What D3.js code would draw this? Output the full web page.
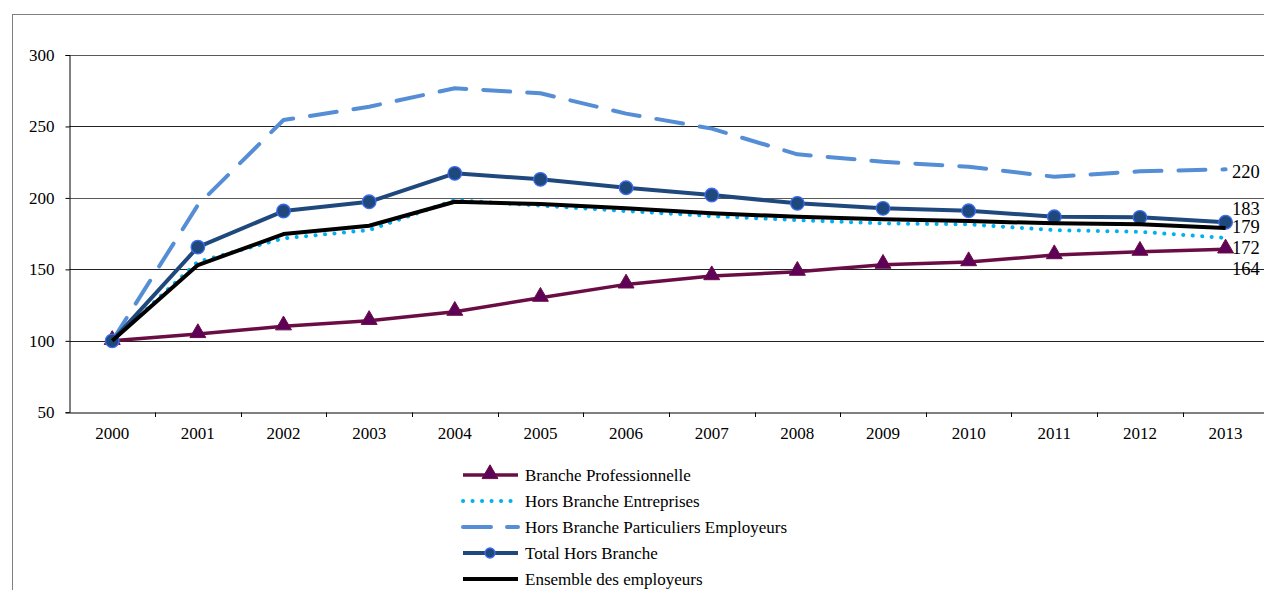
<!DOCTYPE html>
<html><head><meta charset="utf-8">
<script src="https://cdn.jsdelivr.net/npm/d3@7"></script>
<style>
html,body{margin:0;padding:0;background:#fff;overflow:hidden}
svg text{font-family:'Liberation Serif','Times New Roman',Times,'DejaVu Serif',serif !important;fill:#000}
</style></head>
<body><svg id="c" width="1264" height="590"></svg>
<script>
const years = ["2000","2001","2002","2003","2004","2005","2006","2007","2008","2009","2010","2011","2012","2013"];
const brancheProfessionnelle = [100,104.8,110.2,114,120.4,130.2,139.5,145.3,148.4,153.3,155.1,160,162.4,164];
const horsBrancheEntreprises = [100,155.3,171.7,177.5,198.5,194.6,190.8,187.3,184.5,182.2,181.5,177.5,176.3,172];
const horsBrancheParticuliers = [100,195,254.5,263.8,276.7,273.2,259,248.5,230.5,225.3,221.8,214.8,218.6,220];
const totalHorsBranche = [100,165.6,190.8,197.3,217.2,213,207.1,202,196.2,192.7,191,186.8,186.4,183];
const ensembleEmployeurs = [100,153,174.7,180.5,197.3,195.7,192.7,189.2,186.8,185,183.8,182.2,181.5,179];
const yTicks = [50,100,150,200,250,300];
const seriesNames = ["Branche Professionnelle","Hors Branche Entreprises","Hors Branche Particuliers Employeurs","Total Hors Branche","Ensemble des employeurs"];
const endLabels = ["164","172","220","183","179"];

const FONT = "'Liberation Serif','Times New Roman',Times,'DejaVu Serif',serif";
const svg = d3.select("#c");
// outer frame
svg.append("rect").attr("x",12.5).attr("y",14.5).attr("width",1300).attr("height",700)
  .attr("fill","none").attr("stroke","#7f7f7f").attr("stroke-width",1);

const x = d3.scaleBand().domain(years).range([69.4,1268.4]);
const y = d3.scaleLinear().domain([50,300]).range([412.3,55]);
const cx = d => x(d) + x.bandwidth()/2;

// gridlines
svg.append("g").selectAll("line").data(yTicks.filter(t=>t>50)).join("line")
  .attr("x1",69.4).attr("x2",1290).attr("y1",d=>Math.round(y(d))+0.5).attr("y2",d=>Math.round(y(d))+0.5)
  .attr("stroke",d=>d===300||d===200?"#5a5a5a":"#222").attr("stroke-width",1);

// y axis
const yAxis = svg.append("g").attr("transform","translate(69.5,0)")
  .call(d3.axisLeft(y).tickValues(yTicks).tickSize(4).tickPadding(11));
yAxis.attr("font-family",FONT).attr("font-size",17);
yAxis.select(".domain").attr("stroke","#000");
yAxis.selectAll(".tick line").attr("stroke","#000");

// x axis
const xAxis = svg.append("g").attr("transform",`translate(0,${Math.round(y(50))+0.5})`)
  .call(d3.axisBottom(x).tickSize(0).tickPadding(14));
xAxis.attr("font-family",FONT).attr("font-size",17);
xAxis.select(".domain").attr("stroke","#000");
svg.append("g").selectAll("line").data(years.slice(1)).join("line")
  .attr("x1",d=>Math.round(x(d))+0.5).attr("x2",d=>Math.round(x(d))+0.5)
  .attr("y1",Math.round(y(50))+0.5).attr("y2",Math.round(y(50))+5)
  .attr("stroke","#000");

const line = d3.line().x((d,i)=>cx(years[i])).y(d=>y(d));

const styles = [
  {data:brancheProfessionnelle,color:"#6a0d45",w:3.5,dash:null,cap:"butt",marker:"tri"},
  {data:horsBrancheEntreprises,color:"#00b0f0",w:4,dash:"0.1,9.4",cap:"round",marker:null},
  {data:horsBrancheParticuliers,color:"#558ed5",w:4,dash:"27,17",cap:"round",marker:null},
  {data:totalHorsBranche,color:"#1f497d",w:4,dash:null,cap:"butt",marker:"circle"},
  {data:ensembleEmployeurs,color:"#000",w:4,dash:null,cap:"butt",marker:null}
];

const tri = d3.symbol().type(d3.symbolTriangle).size(110);
styles.forEach(s=>{
  svg.append("path").datum(s.data).attr("d",line).attr("fill","none")
    .attr("stroke",s.color).attr("stroke-width",s.w).attr("stroke-linecap",s.cap)
    .attr("stroke-linejoin","round").attr("stroke-dasharray",s.dash);
  if(s.marker==="tri"){
    svg.append("g").selectAll("path").data(s.data).join("path")
      .attr("d",tri).attr("transform",(d,i)=>`translate(${cx(years[i])},${y(d)-1})`)
      .attr("fill","#5e0058").attr("stroke","#6a0d45").attr("stroke-width",1);
  } else if(s.marker==="circle"){
    svg.append("g").selectAll("circle").data(s.data).join("circle")
      .attr("cx",(d,i)=>cx(years[i])).attr("cy",d=>y(d)).attr("r",6.8)
      .attr("fill","#1f497d").attr("stroke","#3d6cf0").attr("stroke-width",1.3);
  }
});

// end labels
const labelDy = [19,10,2,-14,-1];
const lastVals = [brancheProfessionnelle[13],horsBrancheEntreprises[13],horsBrancheParticuliers[13],totalHorsBranche[13],ensembleEmployeurs[13]];
svg.append("g").attr("font-family",FONT).selectAll("text").data(endLabels).join("text")
  .attr("x",1232).attr("y",(d,i)=>y(lastVals[i])+labelDy[i]).attr("dy","0.35em")
  .attr("font-size",18.5).text(d=>d);

// legend
const lg = svg.append("g").attr("font-family",FONT);
seriesNames.forEach((n,i)=>{
  const s = styles[i];
  const yy = 475 + i*26;
  lg.append("line").attr("x1",463).attr("x2",518).attr("y1",yy).attr("y2",yy)
    .attr("stroke",s.color).attr("stroke-width",s.w).attr("stroke-linecap",s.cap)
    .attr("stroke-dasharray",i===2?"28,16":s.dash);
  if(s.marker==="tri") lg.append("path").attr("d",tri).attr("transform",`translate(490,${yy-1})`).attr("fill","#5e0058").attr("stroke","#6a0d45");
  if(s.marker==="circle") lg.append("circle").attr("cx",490).attr("cy",yy).attr("r",5).attr("fill","#1f497d").attr("stroke","#3d6cf0").attr("stroke-width",1.3);
  lg.append("text").attr("x",525).attr("y",yy).attr("dy","0.35em").attr("font-size",17).text(n);
});
</script></body></html>
